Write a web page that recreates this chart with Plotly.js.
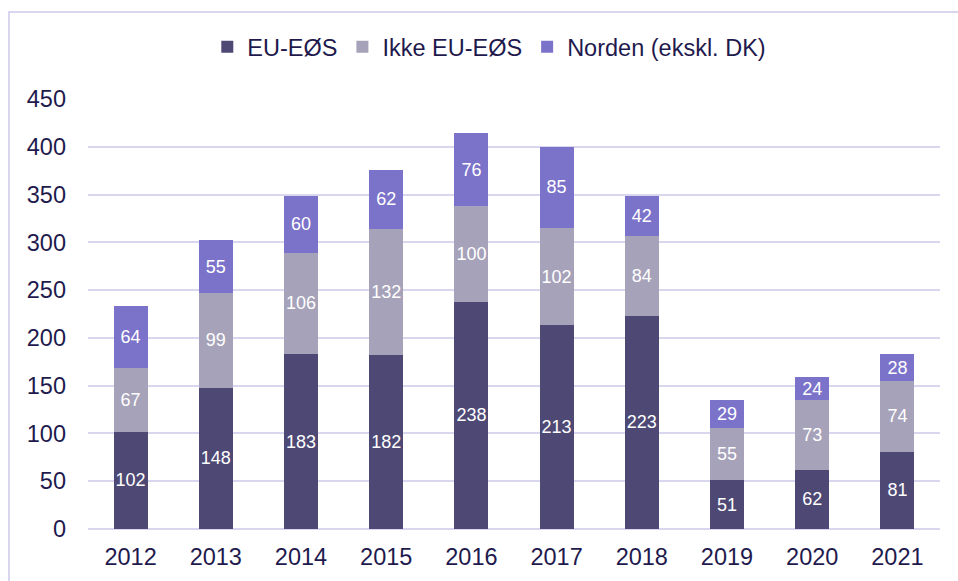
<!DOCTYPE html>
<html>
<head>
<meta charset="utf-8">
<script src="https://cdn.plot.ly/plotly-3.0.1.min.js"></script>
<style>html,body{margin:0;padding:0;background:#fff;}#chart{width:958px;height:581px;}</style>
</head>
<body>
<div id="chart"></div>
<script>
const years = ['2012','2013','2014','2015','2016','2017','2018','2019','2020','2021'];
const euEos = [102,148,183,182,238,213,223,51,62,81];
const ikkeEuEos = [67,99,106,132,100,102,84,55,73,74];
const norden = [64,55,60,62,76,85,42,29,24,28];

const textColor = '#1f1a4d';
function mk(name, vals, color){
  return {
    type:'bar', name:name, x:years, y:vals, marker:{color:color},
    text:vals.map(String), textposition:'inside', insidetextanchor:'middle',
    textangle:0, constraintext:'none',
    textfont:{color:'#ffffff', size:18, family:'Liberation Sans, Arial, sans-serif'},
    hoverinfo:'none'
  };
}
const data = [
  mk('EU-EØS', euEos, '#4e4874'),
  mk('Ikke EU-EØS', ikkeEuEos, '#a6a2b9'),
  mk('Norden (ekskl. DK)', norden, '#7b72c9')
];
const layout = {
  width:958, height:581,
  margin:{l:88, r:18, t:99, b:52},
  barmode:'stack', bargap:0.6,
  paper_bgcolor:'#ffffff', plot_bgcolor:'#ffffff',
  font:{family:'Liberation Sans, Arial, sans-serif', color:textColor, size:23.5},
  showlegend:true,
  legend:{orientation:'h', x:0.471, xanchor:'center', y:1.121, yanchor:'middle',
          font:{size:23.5, color:textColor}, traceorder:'normal', itemwidth:30},
  xaxis:{type:'category', tickfont:{size:23.5}, showgrid:false, zeroline:false, ticks:'', showline:false,
         ticklabelstandoff:11},
  yaxis:{range:[0,450], dtick:50, tickfont:{size:23.5}, gridcolor:'#d9d6f0', gridwidth:2,
         zeroline:true, zerolinecolor:'#d9d6f0', zerolinewidth:2, ticklabelstandoff:21, ticks:''},
  uniformtext:{mode:false},
  shapes:[{type:'rect', xref:'paper', yref:'paper', x0:(9-88)/852, x1:1.2, y0:-0.3, y1:(529-12)/430,
           line:{color:'#d9d6f0', width:2}, fillcolor:'rgba(0,0,0,0)', layer:'below'}]
};
Plotly.newPlot('chart', data, layout, {displayModeBar:false, staticPlot:true});
</script>
</body>
</html>
